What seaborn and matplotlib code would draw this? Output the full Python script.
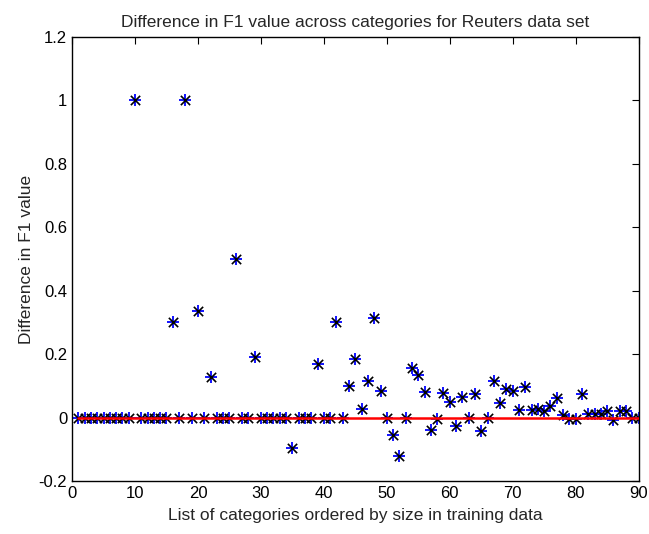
import numpy as np
import matplotlib
matplotlib.use("Agg")
import matplotlib.pyplot as plt
import seaborn as sns
from matplotlib.ticker import FuncFormatter

# categorias 1..90 e diferenca de F1
categories = list(range(1, 91))
f1_diff = [
    0, 0, 0, 0, 0, 0, 0, 0, 0, 1.0,            # 1-10
    0, 0, 0, 0, 0, 0.30, 0, 1.0, 0, 0.335,     # 11-20
    0, 0.128, 0, 0, 0, 0.50, 0, 0, 0.19, 0,    # 21-30
    0, 0, 0, 0, -0.097, 0, 0, 0, 0.17, 0,      # 31-40
    0, 0.30, 0, 0.10, 0.186, 0.028, 0.117, 0.315, 0.084, 0,   # 41-50
    -0.056, -0.121, 0, 0.155, 0.136, 0.081, -0.038, -0.004, 0.079, 0.048,  # 51-60
    -0.027, 0.066, 0, 0.073, -0.042, 0, 0.117, 0.045, 0.09, 0.084,  # 61-70
    0.024, 0.096, 0.024, 0.027, 0.022, 0.037, 0.061, 0.007, -0.004, -0.004,  # 71-80
    0.076, 0.012, 0.01, 0.01, 0.022, -0.006, 0.022, 0.022, 0, 0,  # 81-90
]
baseline = [0] * len(categories)

sns.set_style("white")
plt.rcParams['font.family'] = ['Liberation Sans', 'DejaVu Sans']

fig = plt.figure(figsize=(6.49, 5.34), dpi=100)
ax = fig.add_axes([0.111, 0.099, 0.873, 0.832])

# marcador estilo matlab: + azul com x preto por cima
sns.scatterplot(x=categories, y=f1_diff, marker='+', color='blue', s=80, linewidth=1.3, ax=ax, zorder=2)
sns.scatterplot(x=categories, y=f1_diff, marker='x', color='black', s=45, linewidth=1.2, ax=ax, zorder=3)
sns.lineplot(x=categories, y=baseline, color='red', linewidth=1.8, ax=ax, zorder=4)

ax.set_xlim(0, 90)
ax.set_ylim(-0.2, 1.2)
ax.set_xticks(np.arange(0, 91, 10))
ax.set_yticks(np.arange(-0.2, 1.21, 0.2))
ax.yaxis.set_major_formatter(FuncFormatter(lambda v, p: f'{round(v, 1):g}'))
ax.tick_params(direction='in', top=True, right=True, length=5, width=0.8, labelsize=12, colors='black')
for s in ax.spines.values():
    s.set_color('black')
    s.set_linewidth(1.0)

ax.set_title('Difference in F1 value across categories for Reuters data set', fontsize=12.5, pad=7)
ax.set_xlabel('List of categories ordered by size in training data', fontsize=12.5, labelpad=5)
ax.set_ylabel('Difference in F1 value', fontsize=12.5, labelpad=3)

fig.savefig('out.png', dpi=100)
